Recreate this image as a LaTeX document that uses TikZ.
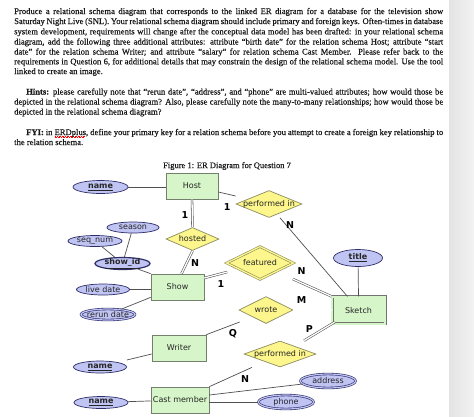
\documentclass[tikz,border=0pt]{standalone}
\usepackage{fontspec}
\setmainfont{Liberation Serif}[FakeBold=0.35]
\newfontfamily\diagfont{DejaVu Sans}
\usetikzlibrary{shapes.geometric,calc}
\newcommand\squigline[1]{\setbox0\hbox{#1}\rlap{\raisebox{-2.2pt}{\color{red}\hbox to \wd0{\leaders\hbox to 1.6pt{\rule[0pt]{0.8pt}{0.45pt}\rule[0.45pt]{0.8pt}{0.45pt}}\hfill}}}#1}
\definecolor{entfill}{RGB}{214,245,200}
\definecolor{entdraw}{RGB}{115,128,110}
\definecolor{relfill}{RGB}{252,246,140}
\definecolor{reldraw}{RGB}{140,140,95}
\definecolor{attfill}{RGB}{192,196,242}
\definecolor{attdraw}{RGB}{45,45,105}
\definecolor{conncol}{RGB}{80,80,80}
\definecolor{txtcol}{RGB}{25,25,25}
\tikzset{
  txt/.style={anchor=base west, inner sep=0, text=txtcol, font=\fontsize{8.6}{10}\selectfont},
  dtxt/.style={font=\diagfont\fontsize{8}{9}\selectfont, inner sep=0, text=black!85},
  ent/.style={rectangle, draw=entdraw, fill=entfill, line width=0.7pt, inner sep=0, dtxt},
  went/.style={ent, draw=black!55, double=entfill, double distance=1.6pt, line width=0.7pt},
  rel/.style={diamond, draw=reldraw, fill=relfill, line width=0.7pt, inner sep=0},
  idrel/.style={rel, double=relfill, double distance=1.3pt, line width=0.6pt},
  attr/.style={ellipse, draw=attdraw, fill=attfill, line width=0.7pt, inner sep=0},
  mval/.style={attr, double=attfill, double distance=1.2pt, line width=0.6pt},
  lbl/.style={font=\diagfont\bfseries\fontsize{9.5}{10}\selectfont, inner sep=0},
  conn/.style={draw=conncol, line width=0.7pt},
  dconn/.style={draw=conncol, line width=0.55pt, double=white, double distance=1.3pt}
}
\begin{document}
\begin{tikzpicture}[x=1pt,y=-1pt]
\useasboundingbox (0,0) rectangle (474,416);
\fill[white] (0,0) rectangle (474,416);
\shade[left color=black!11, right color=black!5] (449,0) rectangle (474,416);

% ---------------- text ----------------
\node[txt] (p1a) at (14,14) {\makebox[429pt][s]{Produce a relational schema diagram that corresponds to the linked ER diagram for a database for the television show}};
\node[txt] (p1b) at (14,24) {\makebox[429pt][s]{Saturday Night Live (SNL). Your relational schema diagram should include primary and foreign keys. Often-times in database}};
\node[txt] (p1c) at (14,34.3) {\makebox[429pt][s]{system development, requirements will change after the conceptual data model has been drafted: in your relational schema}};
\node[txt] (p1d) at (14,44.5) {\makebox[429pt][s]{diagram, add the following three additional attributes: attribute “birth date” for the relation schema Host; attribute “start}};
\node[txt] (p1e) at (14,54.5) {\makebox[429pt][s]{date” for the relation schema Writer; and attribute “salary” for relation schema Cast Member. Please refer back to the}};
\node[txt] (p1f) at (14,64.3) {\makebox[429pt][s]{requirements in Question 6, for additional details that may constrain the design of the relational schema model. Use the tool}};
\node[txt] (p1g) at (14,74) {linked to create an image.};

\node[txt] (p2a) at (26,94.5) {\makebox[417pt][s]{\textbf{Hints:} please carefully note that “rerun date”, “address”, and “phone” are multi-valued attributes; how would those be}};
\node[txt] (p2b) at (14,104.5) {\makebox[429pt][s]{depicted in the relational schema diagram? Also, please carefully note the many-to-many relationships; how would those be}};
\node[txt] (p2c) at (14,114.5) {depicted in the relational schema diagram?};

\node[txt] (p3a) at (26,135) {\makebox[417pt][s]{\textbf{FYI:} in \squigline{ERDplus}, define your primary key for a relation schema before you attempt to create a foreign key relationship to}};
\node[txt] (p3b) at (14,145) {the relation schema.};

\node[inner sep=0, text=txtcol, font=\fontsize{8.5}{10}\selectfont] (cap) at (227,166) {Figure 1: ER Diagram for Question 7};

% ---------------- entities ----------------
\node[ent, minimum width=52, minimum height=26] (host) at (192,186) {Host};
\node[ent, minimum width=53, minimum height=26] (show) at (177.5,287) {Show};
\node[ent, minimum width=54, minimum height=26] (writer) at (179,348) {Writer};
\node[ent, minimum width=58, minimum height=26] (cast) at (180,400) {Cast member};
\node[went, minimum width=53, minimum height=27] (sketch) at (358.5,310.3) {Sketch};

% ---------------- relationships ----------------
\node[rel, minimum width=66, minimum height=27, label={[dtxt]center:performed in}] (pin1) at (269,204) {};
\node[rel, minimum width=53, minimum height=23, label={[dtxt]center:hosted}] (hosted) at (192.5,239) {};
\node[idrel, minimum width=67, minimum height=33, label={[dtxt]center:featured}] (featured) at (260,263) {};
\node[rel, minimum width=54, minimum height=27, label={[dtxt]center:wrote}] (wrote) at (266,310) {};
\node[rel, minimum width=72, minimum height=26, label={[dtxt]center:performed in}] (pin2) at (280,354) {};

% ---------------- attributes ----------------
\node[attr, minimum width=55, minimum height=13, label={[dtxt]center:\underline{\textbf{name}}}] (nameH) at (100.5,187) {};
\node[attr, minimum width=52, minimum height=11, label={[dtxt]center:season}] (season) at (133,227.5) {};
\node[attr, minimum width=54, minimum height=11, label={[dtxt]center:seq\_num}] (seqnum) at (95,241) {};
\node[attr, line width=1.2pt, minimum width=55, minimum height=12, label={[dtxt]center:\underline{\textbf{show\_id}}}] (showid) at (122.5,263.5) {};
\node[attr, minimum width=53, minimum height=11, label={[dtxt]center:live date}] (live) at (103,289.5) {};
\node[mval, minimum width=54, minimum height=11, label={[dtxt]center:rerun date}] (rerun) at (108,314.5) {};
\node[attr, minimum width=53, minimum height=12, label={[dtxt]center:\underline{\textbf{name}}}] (nameW) at (100,367) {};
\node[attr, minimum width=54, minimum height=12, label={[dtxt]center:\underline{\textbf{name}}}] (nameC) at (101,402.5) {};
\node[attr, minimum width=49, minimum height=17, label={[dtxt]center:\underline{\textbf{title}}}] (title) at (358,258) {};
\node[mval, minimum width=55, minimum height=14, label={[dtxt]center:address}] (address) at (328,381) {};
\node[mval, minimum width=55, minimum height=14, label={[dtxt]center:phone}] (phone) at (286,402) {};

% ---------------- connectors ----------------
\draw[conn] (nameH) -- (host.west |- nameH);
\draw[conn] (seqnum) -- (showid);
\draw[conn] (season) -- (showid);
\draw[conn] (showid) -- (show.north west);
\draw[conn] (live) -- (show.west |- live);
\draw[conn] (rerun) -- ([yshift=3pt]show.south west);
\draw[conn] ($(nameW.east)+(0,-7)$) -- ($(writer.west)+(0,6)$);
\draw[conn] (nameC) -- (cast);
\draw[conn] (title) -- (sketch.north);

\draw[dconn] (host.south) -- (hosted.north);
\draw[dconn] (hosted.south) -- ([xshift=4pt]show.north);
\draw[conn] ([yshift=-6pt]host.east) -- ($(pin1.west)+(0,-8)$);
\draw[conn] ($(pin1.south)+(11,0)$) -- ($(sketch.north)+(-11,0)$);
\draw[dconn] ([yshift=9pt]show.east) -- ($(featured.west)+(1,9)$);
\draw[dconn] ($(featured.east)+(-1,16)$) -- (sketch.north west);
\draw[dconn] (wrote.east) -- (sketch.west |- wrote.east);
\draw[conn] (writer.north east) -- ($(wrote.west)+(1,12)$);
\draw[dconn] ($(pin2.north)+(24,0)$) -- ($(sketch.south west)+(3,-2)$);
\draw[conn] (cast.north east) -- ($(pin2.south)+(-28,0)$);
\draw[conn] ([yshift=5pt]cast.east) -- (address);
\draw[conn] (cast.east |- phone) -- (phone.west);

% ---------------- cardinalities ----------------
\node[lbl] (c1) at (185,215) {1};
\node[lbl] (c2) at (195,263) {N};
\node[lbl] (c3) at (227.3,206.7) {1};
\node[lbl] (c4) at (290,225) {N};
\node[lbl] (c5) at (301.5,271) {N};
\node[lbl] (c6) at (221,284) {1};
\node[lbl] (c7) at (301.5,300.5) {M};
\node[lbl] (c8) at (309.3,329.5) {P};
\node[lbl] (c9) at (233,333.5) {Q};
\node[lbl] (c10) at (245,379.3) {N};
\end{tikzpicture}
\end{document}
